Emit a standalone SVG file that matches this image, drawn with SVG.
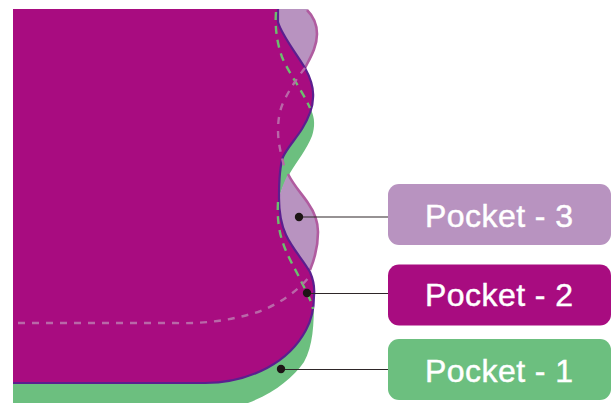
<svg xmlns="http://www.w3.org/2000/svg" width="611" height="403" viewBox="0 0 611 403">
<style>
.lbl{font-family:"Liberation Sans",Arial,sans-serif;font-size:32px;fill:#fff;stroke:#fff;stroke-width:.45;letter-spacing:.45px}
.lead{stroke:#2e2628;stroke-width:1.2;fill:none}
.dot{fill:#1d1515}
.dg{fill:none;stroke:#6cbf6e;stroke-width:2.4;stroke-dasharray:8 6}
.dl{fill:none;stroke:#b968a8;stroke-width:2.4;stroke-dasharray:7 7}
</style>
<rect width="611" height="403" fill="#fff"/>
<g id="pocket-1-shape">
<path d="M13 370V403H248C274 393 293 378 304 362C313 346 314 325 314 298L300 290L260 370Z" fill="#6cbf7f"/>
<path d="M311 110C315 118 315 127 312 136C307 149 297 161 290 173C285 181 281 190 279 199L277 170L295 125Z" fill="#6cbf7f"/>
</g>
<g id="pocket-3-shape">
<path d="M277 9H307C313 16 317 25 317 34C317 47 310 58 305 68C296 53 284 38 279 26C277 20 277 15 277 9Z" fill="#b893c0"/>
<path d="M288 174C294 186 302 194 308 203C315 213 318 222 318 232C318 246 315 258 310 270C301 258 291 246 285 233C280 222 278 210 279 198C281 190 284 182 288 174Z" fill="#b893c0"/>
<path d="M307 10C313 16 317 25 317 34C317 47 310 58 305 68M288 174C294 186 302 194 308 203C315 213 318 222 318 232C318 246 315 258 310 270" fill="none" stroke="#b05ca0" stroke-width="2.6"/>
</g>
<g id="pocket-2-shape">
<path d="M13 9H278L278 22C281 34 296 53 305 68C310 77 314 88 313 98C313 108 308 119 302 129C295 140 287 148 283 157C279 168 279 185 279 198C279 212 281 224 286 235C292 248 303 260 310 272C313 279 315 287 314 296C314 307 312 319 306 330C298 345 284 359 267 368C250 377 232 383 205 383H13Z" fill="#a80c80"/>
<path d="M278 9V22C281 34 296 53 305 68C310 77 314 88 313 98C313 108 308 119 302 129C295 140 287 148 283 157C279 168 279 185 279 198C279 212 281 224 286 235C292 248 303 260 310 272C313 279 315 287 314 296C314 307 312 319 306 330C298 345 284 359 267 368C250 377 232 383 205 383H13" fill="none" stroke="#5b1f8f" stroke-width="2.2"/>
</g>
<g id="hidden-edges">
<path class="dg" d="M276 12C275 24 276 40 282 57C288 72 302 90 310 108"/>
<path class="dg" d="M278 202C277 218 279 232 283 243C287 256 297 272 302 283C306 291 311 300 313 309"/>
<path class="dl" d="M305 68C297 78 289 90 283 103C278 114 277 130 279 143C280 150 282 158 284 166"/>
<path class="dl" d="M18 323H175C205 324 232 320 258 312C277 305 297 292 309 277"/>
</g>
<g id="connectors">
<path class="lead" d="M299 217H388"/>
<path class="lead" d="M308 293.500H388"/>
<path class="lead" d="M281 369.500H388"/>
<circle class="dot" cx="299" cy="217" r="4.2"/>
<circle class="dot" cx="307" cy="293" r="4.2"/>
<circle class="dot" cx="281" cy="369" r="4.2"/>
</g>
<g id="pocket-3">
<rect x="388" y="184" width="223" height="61" rx="11" fill="#b893c0"/>
<text class="lbl" x="425" y="227">Pocket - 3</text>
</g>
<g id="pocket-2">
<rect x="388" y="264.500" width="223" height="61" rx="11" fill="#a80c80"/>
<text class="lbl" x="425" y="306">Pocket - 2</text>
</g>
<g id="pocket-1">
<rect x="388" y="339" width="223" height="61" rx="11" fill="#6cbf7f"/>
<text class="lbl" x="425" y="382">Pocket - 1</text>
</g>
</svg>
